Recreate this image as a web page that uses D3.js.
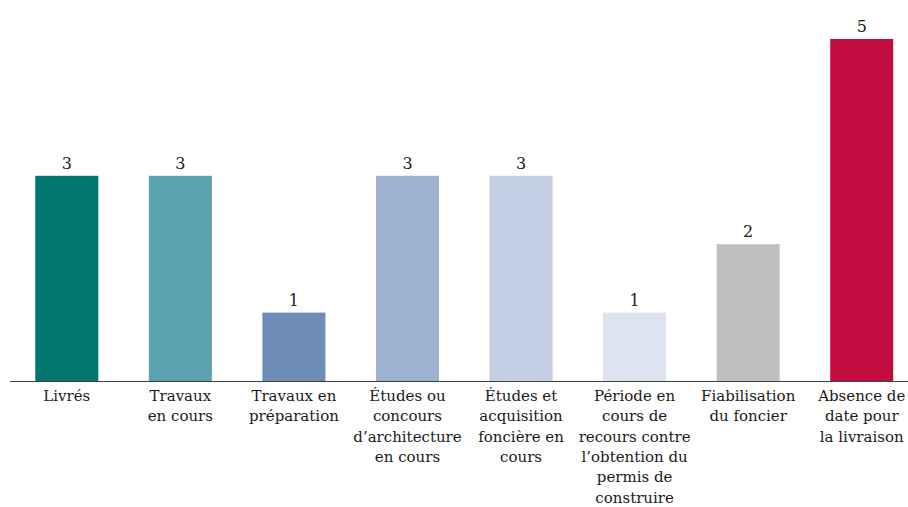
<!DOCTYPE html>
<html><head><meta charset="utf-8">
<script src="https://cdn.jsdelivr.net/npm/d3@7"></script>
<style>body{margin:0;background:#fff}svg{display:block}</style>
</head><body><svg id="c" width="908" height="507"></svg>
<script>
const categories = ["Livrés","Travaux en cours","Travaux en préparation","Études ou concours d’architecture en cours","Études et acquisition foncière en cours","Période en cours de recours contre l’obtention du permis de construire","Fiabilisation du foncier","Absence de date pour la livraison"];
const labelLines = [["Livrés"],["Travaux","en cours"],["Travaux en","préparation"],["Études ou","concours","d’architecture","en cours"],["Études et","acquisition","foncière en","cours"],["Période en","cours de","recours contre","l’obtention du","permis de","construire"],["Fiabilisation","du foncier"],["Absence de","date pour","la livraison"]];
const values = [3,3,1,3,3,1,2,5];
const colors = ["#00766F","#5BA3AF","#6E8CB8","#9DB1D0","#C3CEE2","#DDE3EF","#BFBFBF","#C20E3F"];

const FONT = "'DejaVu Serif', serif";
const svg = d3.select("#c");
const x = d3.scaleBand().domain(categories).range([10,918.5]).paddingInner(0.445).paddingOuter(0.2225);
const y = d3.scaleLinear().domain([0,5]).range([381,39]);

svg.selectAll("rect.bar").data(values).join("rect").attr("class","bar")
  .attr("x",(d,i)=>x(categories[i])).attr("width",x.bandwidth())
  .attr("y",d=>y(d)).attr("height",d=>y(0)-y(d)).attr("fill",(d,i)=>colors[i]);

svg.selectAll("text.val").data(values).join("text").attr("class","val")
  .attr("x",(d,i)=>x(categories[i])+x.bandwidth()/2).attr("y",d=>y(d)-7)
  .attr("text-anchor","middle").attr("font-family",FONT).attr("fill","#1a1a1a")
  .attr("font-size",16).text(d=>d);

svg.append("line").attr("x1",10).attr("x2",908).attr("y1",y(0)+0.5).attr("y2",y(0)+0.5)
  .attr("stroke","#404040").attr("stroke-width",1.2);

const g = svg.selectAll("text.lab").data(categories).join("text").attr("class","lab")
  .attr("text-anchor","middle").attr("font-size",15).attr("font-family",FONT).attr("fill","#1a1a1a")
  .attr("transform",(d)=>`translate(${x(d)+x.bandwidth()/2},401)`);
g.each(function(d,i){
  d3.select(this).selectAll("tspan").data(labelLines[i]).join("tspan")
    .attr("x",0).attr("y",(t,j)=>j*20.3).text(t=>t);
});
</script></body></html>
